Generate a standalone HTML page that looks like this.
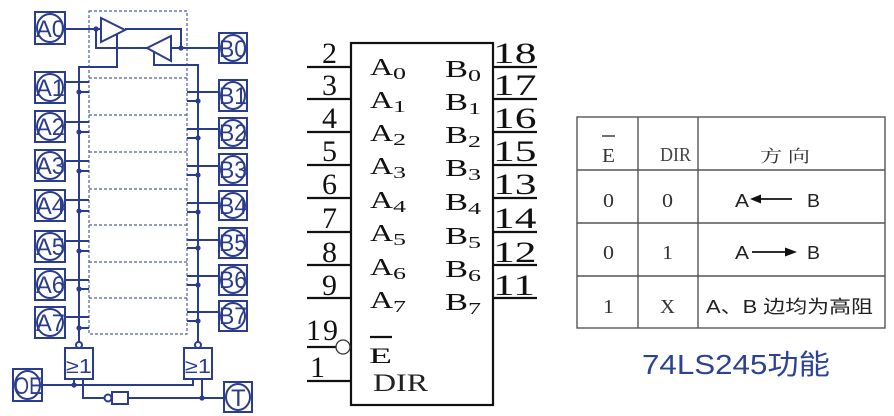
<!DOCTYPE html>
<html><head><meta charset="utf-8"><style>
html,body{margin:0;padding:0;background:#fff;width:894px;height:416px;overflow:hidden}
svg{display:block}
</style></head><body>
<svg width="894" height="416" viewBox="0 0 894 416" xmlns="http://www.w3.org/2000/svg">
<rect width="894" height="416" fill="#fff"/>
<!-- LEFT DIAGRAM -->
<g stroke="#2a3c8e" fill="none" stroke-width="2">
  <g stroke="#4f5f9e" stroke-width="1.2" stroke-dasharray="3,2">
    <rect x="89" y="11" width="98" height="323"/>
    <line x1="89" y1="78" x2="187" y2="78"/>
    <line x1="89" y1="115" x2="187" y2="115"/>
    <line x1="89" y1="152" x2="187" y2="152"/>
    <line x1="89" y1="189" x2="187" y2="189"/>
    <line x1="89" y1="225" x2="187" y2="225"/>
    <line x1="89" y1="262" x2="187" y2="262"/>
    <line x1="89" y1="298" x2="187" y2="298"/>
  </g>
  <polygon points="101,18 101,42 125,30"/>
  <polygon points="171,36 171,61 147,48"/>
  <polyline points="65,29 101,29"/>
  <polyline points="125,29 181,29 181,48"/>
  <polyline points="96,29 96,48 147,48"/>
  <polyline points="171,48 219,48"/>
  <polyline points="117,34 117,67 79,67 79,342"/>
  <polyline points="154,52 154,65 198,65 198,342"/>
  <line x1="65" y1="82" x2="89" y2="82"/><line x1="79" y1="92" x2="89" y2="92"/>
  <line x1="65" y1="122" x2="89" y2="122"/><line x1="79" y1="132" x2="89" y2="132"/>
  <line x1="65" y1="161" x2="89" y2="161"/><line x1="79" y1="171" x2="89" y2="171"/>
  <line x1="65" y1="200" x2="89" y2="200"/><line x1="79" y1="211" x2="89" y2="211"/>
  <line x1="65" y1="241" x2="89" y2="241"/><line x1="79" y1="251" x2="89" y2="251"/>
  <line x1="65" y1="280" x2="89" y2="280"/><line x1="79" y1="289" x2="89" y2="289"/>
  <line x1="65" y1="317" x2="89" y2="317"/><line x1="79" y1="328" x2="89" y2="328"/>
  <line x1="187" y1="92" x2="219" y2="92"/><line x1="187" y1="101" x2="198" y2="101"/>
  <line x1="187" y1="129" x2="219" y2="129"/><line x1="187" y1="138" x2="198" y2="138"/>
  <line x1="187" y1="166" x2="219" y2="166"/><line x1="187" y1="175" x2="198" y2="175"/>
  <line x1="187" y1="203" x2="219" y2="203"/><line x1="187" y1="212" x2="198" y2="212"/>
  <line x1="187" y1="240" x2="219" y2="240"/><line x1="187" y1="248" x2="198" y2="248"/>
  <line x1="187" y1="276" x2="219" y2="276"/><line x1="187" y1="285" x2="198" y2="285"/>
  <line x1="187" y1="312" x2="219" y2="312"/><line x1="187" y1="321" x2="198" y2="321"/>
  <rect x="65" y="348" width="28" height="31"/>
  <rect x="184" y="348" width="28" height="31"/>
  <circle cx="79" cy="345" r="3" fill="#fff"/>
  <circle cx="198" cy="345" r="3" fill="#fff"/>
  <polyline points="42,385 193,385 193,379"/>
  <line x1="74" y1="385" x2="74" y2="379"/>
  <polyline points="83,379 83,398 104,398"/>
  <circle cx="108" cy="398" r="3.5" fill="#fff"/>
  <rect x="112" y="392" width="16" height="12"/>
  <line x1="128" y1="398" x2="224" y2="398"/>
  <line x1="202" y1="379" x2="202" y2="398"/>
  <rect x="35" y="12" width="30" height="32"/><ellipse cx="50" cy="28" rx="13" ry="14"/>
  <rect x="35" y="72" width="30" height="31"/><ellipse cx="50" cy="87.5" rx="13" ry="13.5"/>
  <rect x="35" y="111" width="30" height="31"/><ellipse cx="50" cy="126.5" rx="13" ry="13.5"/>
  <rect x="35" y="150" width="30" height="31"/><ellipse cx="50" cy="165.5" rx="13" ry="13.5"/>
  <rect x="35" y="190" width="30" height="31"/><ellipse cx="50" cy="205.5" rx="13" ry="13.5"/>
  <rect x="35" y="231" width="30" height="31"/><ellipse cx="50" cy="246.5" rx="13" ry="13.5"/>
  <rect x="35" y="269" width="30" height="31"/><ellipse cx="50" cy="284.5" rx="13" ry="13.5"/>
  <rect x="35" y="307" width="30" height="31"/><ellipse cx="50" cy="322.5" rx="13" ry="13.5"/>
  <rect x="219" y="33" width="28" height="30"/><ellipse cx="233" cy="48" rx="12" ry="13"/>
  <rect x="219" y="80" width="28" height="31"/><ellipse cx="233" cy="95.5" rx="12" ry="13.5"/>
  <rect x="219" y="118" width="28" height="30"/><ellipse cx="233" cy="133" rx="12" ry="13"/>
  <rect x="219" y="154" width="28" height="31"/><ellipse cx="233" cy="169.5" rx="12" ry="13.5"/>
  <rect x="219" y="191" width="28" height="29"/><ellipse cx="233" cy="205.5" rx="12" ry="12.5"/>
  <rect x="219" y="228" width="28" height="30"/><ellipse cx="233" cy="243" rx="12" ry="13"/>
  <rect x="219" y="265" width="28" height="30"/><ellipse cx="233" cy="280" rx="12" ry="13"/>
  <rect x="219" y="301" width="28" height="30"/><ellipse cx="233" cy="316" rx="12" ry="13"/>
  <rect x="13" y="369" width="29" height="32"/><ellipse cx="27.5" cy="385" rx="12.5" ry="14"/>
  <rect x="224" y="382" width="28" height="30"/><ellipse cx="238" cy="397" rx="12" ry="13"/>
</g>
<g fill="#2a3c8e">
  <circle cx="96" cy="29" r="2.6"/><circle cx="181" cy="48" r="2.6"/>
  <circle cx="79" cy="92" r="2.6"/><circle cx="79" cy="132" r="2.6"/><circle cx="79" cy="171" r="2.6"/>
  <circle cx="79" cy="211" r="2.6"/><circle cx="79" cy="251" r="2.6"/><circle cx="79" cy="289" r="2.6"/><circle cx="79" cy="328" r="2.6"/>
  <circle cx="198" cy="101" r="2.6"/><circle cx="198" cy="138" r="2.6"/><circle cx="198" cy="175" r="2.6"/>
  <circle cx="198" cy="212" r="2.6"/><circle cx="198" cy="248" r="2.6"/><circle cx="198" cy="285" r="2.6"/><circle cx="198" cy="321" r="2.6"/>
  <circle cx="74" cy="385" r="2.6"/><circle cx="202" cy="398" r="2.6"/>
</g>
<g fill="#2a3c8e" font-family="Liberation Sans, sans-serif" font-size="24">
  <text x="36" y="37" textLength="29" lengthAdjust="spacingAndGlyphs">A0</text>
  <text x="36" y="96" textLength="29" lengthAdjust="spacingAndGlyphs">A1</text>
  <text x="36" y="135" textLength="29" lengthAdjust="spacingAndGlyphs">A2</text>
  <text x="36" y="174" textLength="29" lengthAdjust="spacingAndGlyphs">A3</text>
  <text x="36" y="214" textLength="29" lengthAdjust="spacingAndGlyphs">A4</text>
  <text x="36" y="255" textLength="29" lengthAdjust="spacingAndGlyphs">A5</text>
  <text x="36" y="293" textLength="29" lengthAdjust="spacingAndGlyphs">A6</text>
  <text x="36" y="331" textLength="29" lengthAdjust="spacingAndGlyphs">A7</text>
  <text x="219" y="57" textLength="28" lengthAdjust="spacingAndGlyphs">B0</text>
  <text x="219" y="104" textLength="28" lengthAdjust="spacingAndGlyphs">B1</text>
  <text x="219" y="141" textLength="28" lengthAdjust="spacingAndGlyphs">B2</text>
  <text x="219" y="178" textLength="28" lengthAdjust="spacingAndGlyphs">B3</text>
  <text x="219" y="214" textLength="28" lengthAdjust="spacingAndGlyphs">B4</text>
  <text x="219" y="251" textLength="28" lengthAdjust="spacingAndGlyphs">B5</text>
  <text x="219" y="288" textLength="28" lengthAdjust="spacingAndGlyphs">B6</text>
  <text x="219" y="324" textLength="28" lengthAdjust="spacingAndGlyphs">B7</text>
  <text x="14" y="394" textLength="28" lengthAdjust="spacingAndGlyphs">OE</text>
  <text x="231" y="406">T</text>
  <text x="66" y="373" font-size="20" textLength="26" lengthAdjust="spacingAndGlyphs">≥1</text>
  <text x="185" y="373" font-size="20" textLength="26" lengthAdjust="spacingAndGlyphs">≥1</text>
</g>

<!-- CHIP -->
<g stroke="#111" stroke-width="2.2" fill="none">
  <rect x="351" y="43" width="142" height="362"/>
  <line x1="307" y1="67" x2="351" y2="67"/>
  <line x1="307" y1="99" x2="351" y2="99"/>
  <line x1="307" y1="132" x2="351" y2="132"/>
  <line x1="307" y1="165" x2="351" y2="165"/>
  <line x1="307" y1="198" x2="351" y2="198"/>
  <line x1="307" y1="232" x2="351" y2="232"/>
  <line x1="307" y1="265" x2="351" y2="265"/>
  <line x1="307" y1="298" x2="351" y2="298"/>
  <line x1="307" y1="347" x2="336" y2="347"/>
  <line x1="307" y1="381" x2="351" y2="381"/>
  <line x1="493" y1="67" x2="537" y2="67"/>
  <line x1="493" y1="99" x2="537" y2="99"/>
  <line x1="493" y1="132" x2="537" y2="132"/>
  <line x1="493" y1="165" x2="537" y2="165"/>
  <line x1="493" y1="198" x2="537" y2="198"/>
  <line x1="493" y1="232" x2="537" y2="232"/>
  <line x1="493" y1="265" x2="537" y2="265"/>
  <line x1="493" y1="298" x2="537" y2="298"/>
  <line x1="370" y1="337" x2="392" y2="337"/>
</g>
<circle cx="343" cy="347" r="7" fill="#fff" stroke="#333" stroke-width="1.3"/>
<g fill="#111" font-family="Liberation Serif, serif" font-size="30">
  <text x="322" y="63">2</text>
  <text x="322" y="95">3</text>
  <text x="322" y="128">4</text>
  <text x="322" y="161">5</text>
  <text x="322" y="194">6</text>
  <text x="322" y="228">7</text>
  <text x="322" y="262">8</text>
  <text x="322" y="295">9</text>
  <text x="306" y="340" textLength="32" lengthAdjust="spacing">19</text>
  <text x="310" y="377">1</text>
  <text transform="translate(493,63) scale(1.45,1)">18</text>
  <text transform="translate(493,95) scale(1.45,1)">17</text>
  <text transform="translate(493,128) scale(1.45,1)">16</text>
  <text transform="translate(493,161) scale(1.45,1)">15</text>
  <text transform="translate(493,194) scale(1.45,1)">13</text>
  <text transform="translate(493,228) scale(1.45,1)">14</text>
  <text transform="translate(493,262) scale(1.45,1)">12</text>
  <text transform="translate(493,295) scale(1.45,1)">11</text>
</g>
<g fill="#111" font-family="Liberation Serif, serif" font-size="24">
  <text x="370" y="75" textLength="23" lengthAdjust="spacingAndGlyphs">A</text>
  <text x="370" y="108" textLength="23" lengthAdjust="spacingAndGlyphs">A</text>
  <text x="370" y="141" textLength="23" lengthAdjust="spacingAndGlyphs">A</text>
  <text x="370" y="174" textLength="23" lengthAdjust="spacingAndGlyphs">A</text>
  <text x="370" y="208" textLength="23" lengthAdjust="spacingAndGlyphs">A</text>
  <text x="370" y="241" textLength="23" lengthAdjust="spacingAndGlyphs">A</text>
  <text x="370" y="275" textLength="23" lengthAdjust="spacingAndGlyphs">A</text>
  <text x="370" y="308" textLength="23" lengthAdjust="spacingAndGlyphs">A</text>
  <text x="445" y="77" textLength="23" lengthAdjust="spacingAndGlyphs">B</text>
  <text x="445" y="110" textLength="23" lengthAdjust="spacingAndGlyphs">B</text>
  <text x="445" y="143" textLength="23" lengthAdjust="spacingAndGlyphs">B</text>
  <text x="445" y="176" textLength="23" lengthAdjust="spacingAndGlyphs">B</text>
  <text x="445" y="210" textLength="23" lengthAdjust="spacingAndGlyphs">B</text>
  <text x="445" y="244" textLength="23" lengthAdjust="spacingAndGlyphs">B</text>
  <text x="445" y="277" textLength="23" lengthAdjust="spacingAndGlyphs">B</text>
  <text x="445" y="310" textLength="23" lengthAdjust="spacingAndGlyphs">B</text>
  <text x="369" y="363" font-size="22" textLength="23" lengthAdjust="spacingAndGlyphs">E</text>
  <text x="373" y="391" font-size="25" fill="#222" textLength="55" lengthAdjust="spacingAndGlyphs">DIR</text>
</g>
<g fill="#111" font-family="Liberation Serif, serif" font-size="17">
  <text x="393" y="79" textLength="13" lengthAdjust="spacingAndGlyphs">0</text>
  <text x="393" y="112" textLength="13" lengthAdjust="spacingAndGlyphs">1</text>
  <text x="393" y="145" textLength="13" lengthAdjust="spacingAndGlyphs">2</text>
  <text x="393" y="178" textLength="13" lengthAdjust="spacingAndGlyphs">3</text>
  <text x="393" y="212" textLength="13" lengthAdjust="spacingAndGlyphs">4</text>
  <text x="393" y="245" textLength="13" lengthAdjust="spacingAndGlyphs">5</text>
  <text x="393" y="279" textLength="13" lengthAdjust="spacingAndGlyphs">6</text>
  <text x="393" y="312" textLength="13" lengthAdjust="spacingAndGlyphs">7</text>
  <text x="468" y="81" textLength="13" lengthAdjust="spacingAndGlyphs">0</text>
  <text x="468" y="114" textLength="13" lengthAdjust="spacingAndGlyphs">1</text>
  <text x="468" y="147" textLength="13" lengthAdjust="spacingAndGlyphs">2</text>
  <text x="468" y="180" textLength="13" lengthAdjust="spacingAndGlyphs">3</text>
  <text x="468" y="214" textLength="13" lengthAdjust="spacingAndGlyphs">4</text>
  <text x="468" y="248" textLength="13" lengthAdjust="spacingAndGlyphs">5</text>
  <text x="468" y="281" textLength="13" lengthAdjust="spacingAndGlyphs">6</text>
  <text x="468" y="314" textLength="13" lengthAdjust="spacingAndGlyphs">7</text>
</g>

<!-- TABLE -->
<g stroke="#555" stroke-width="1.4" fill="none">
  <rect x="577" y="117" width="308" height="211"/>
  <line x1="638" y1="117" x2="638" y2="328"/>
  <line x1="698" y1="117" x2="698" y2="328"/>
  <line x1="577" y1="170" x2="885" y2="170"/>
  <line x1="577" y1="223" x2="885" y2="223"/>
  <line x1="577" y1="276" x2="885" y2="276"/>
  <line x1="602" y1="136" x2="615" y2="136" stroke="#333"/>
</g>
<g fill="#333" font-family="Liberation Serif, 'Noto Serif CJK SC', serif" font-size="20">
  <text x="602" y="162" textLength="13" lengthAdjust="spacingAndGlyphs">E</text>
  <text x="660" y="161" textLength="31" lengthAdjust="spacingAndGlyphs" fill="#444">DIR</text>
  <text x="760" y="162" font-size="17" textLength="50" lengthAdjust="spacingAndGlyphs">方 向</text>
  <text x="603" y="207" textLength="11" lengthAdjust="spacingAndGlyphs">0</text>
  <text x="662" y="207" textLength="11" lengthAdjust="spacingAndGlyphs">0</text>
  <text x="603" y="259" textLength="11" lengthAdjust="spacingAndGlyphs">0</text>
  <text x="662" y="259" textLength="11" lengthAdjust="spacingAndGlyphs">1</text>
  <text x="603" y="313" textLength="11" lengthAdjust="spacingAndGlyphs">1</text>
  <text x="660" y="313" textLength="15" lengthAdjust="spacingAndGlyphs">X</text>
</g>
<g fill="#222" font-family="Liberation Sans, 'Noto Sans CJK SC', sans-serif" font-size="18">
  <text x="735" y="207" textLength="14" lengthAdjust="spacingAndGlyphs">A</text>
  <text x="807" y="207" textLength="13" lengthAdjust="spacingAndGlyphs">B</text>
  <text x="735" y="259" textLength="14" lengthAdjust="spacingAndGlyphs">A</text>
  <text x="807" y="259" textLength="13" lengthAdjust="spacingAndGlyphs">B</text>
  <text x="706" y="313" textLength="167" lengthAdjust="spacingAndGlyphs">A、B 边均为高阻</text>
</g>
<g stroke="#111" stroke-width="1.8">
  <line x1="758" y1="199" x2="792" y2="199"/>
  <line x1="752" y1="252" x2="787" y2="252"/>
</g>
<polygon points="750,199 761,194.5 761,203.5" fill="#111"/>
<polygon points="797,252 785,247.5 785,256.5" fill="#111"/>

<!-- CAPTION -->
<text x="642" y="374" fill="#2b4392" font-family="Liberation Sans, 'Noto Sans CJK SC', sans-serif" font-size="28" textLength="188" lengthAdjust="spacingAndGlyphs">74LS245功能</text>
</svg>
</body></html>
